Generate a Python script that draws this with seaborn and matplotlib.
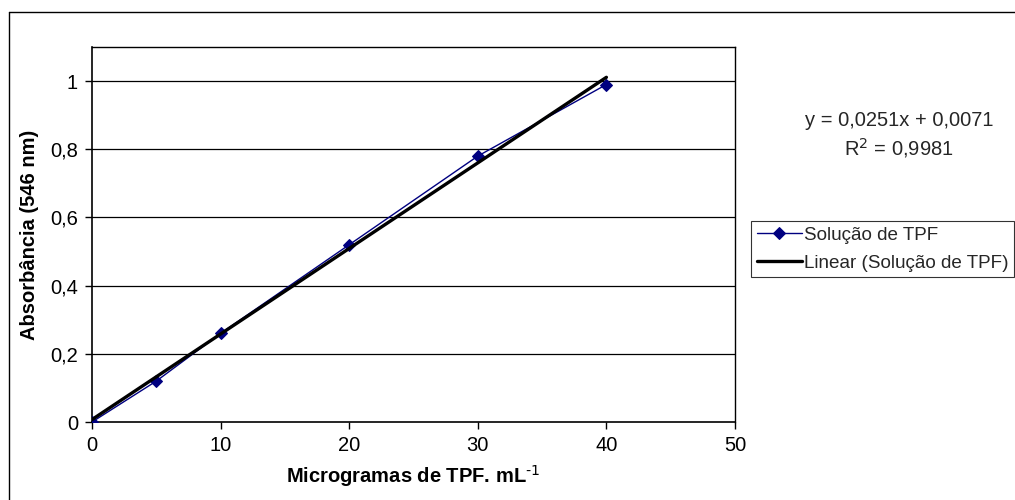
import numpy as np
import pandas as pd
import matplotlib
matplotlib.use("Agg")
import matplotlib.pyplot as plt
import seaborn as sns
from matplotlib.lines import Line2D

x_vals = [0, 5, 10, 20, 30, 40]
y_vals = [0.0, 0.12, 0.26, 0.52, 0.78, 0.99]
slope = 0.0251
intercept = 0.0071
series_label = "Solução de TPF"
trend_label = "Linear (Solução de TPF)"
eq_text = "y = 0,0251x + 0,0071"
r2_text = "R$^2$ = 0,9981"
xticks = [0, 10, 20, 30, 40, 50]
yticks = [0, 0.2, 0.4, 0.6, 0.8, 1.0]
ytick_labels = ["0", "0,2", "0,4", "0,6", "0,8", "1"]

sns.set_theme(style="white")
plt.rcParams['font.family'] = ['Liberation Sans', 'DejaVu Sans']

W, H = 1015, 500
fig = plt.figure(figsize=(W / 100, H / 100), dpi=100)
L, R, T, B = 92, 735, 47, 422
ax = fig.add_axes([L / W, 1 - B / H, (R - L) / W, (B - T) / H])

df = pd.DataFrame({"x": x_vals, "y": y_vals})
trend_x = np.array([x_vals[0], x_vals[-1]])
tdf = pd.DataFrame({"x": trend_x, "y": slope * trend_x + intercept})

for yt in yticks[1:]:
    ax.axhline(yt, color="black", lw=0.9, zorder=0)

sns.lineplot(data=df, x="x", y="y", ax=ax, color="#000080", lw=1.0,
             marker="D", markersize=6, markeredgecolor="#000080",
             markerfacecolor="#000080", label=series_label, zorder=3)
sns.lineplot(data=tdf, x="x", y="y", ax=ax, color="black", lw=2.4,
             label=trend_label, zorder=4)

ax.set_xlim(0, 50)
ax.set_ylim(0, 1.1)
ax.set_xticks(xticks)
ax.set_xticklabels([str(t) for t in xticks])
ax.set_yticks(yticks)
ax.set_yticklabels(ytick_labels)
for s in ["top", "right"]:
    ax.spines[s].set_color("black")
    ax.spines[s].set_linewidth(1.0)
for s in ["left", "bottom"]:
    ax.spines[s].set_color("black")
    ax.spines[s].set_linewidth(1.2)
ax.tick_params(axis="both", direction="out", length=5, width=1, color="black",
               labelsize=14.5, labelcolor="black", bottom=True, left=True, pad=5)
ax.set_xlabel("Microgramas de TPF. mL$^{\\text{-1}}$", fontsize=14.5, fontweight="bold",
              color="black", labelpad=6)
ax.set_ylabel("Absorbância (546 nm)", fontsize=14.5, fontweight="bold", color="black", labelpad=8)

ax.get_legend().remove()
h, l = ax.get_legend_handles_labels()
leg = fig.legend(h, l, loc="upper left", bbox_to_anchor=(751 / W, 1 - 221 / H),
                 frameon=True, fancybox=False, edgecolor="black", fontsize=13.6,
                 handlelength=2.4, handletextpad=0.1, borderpad=0.3,
                 labelspacing=0.55, borderaxespad=0)
leg.get_frame().set_linewidth(0.8)

fig.text(899 / W, 1 - 120 / H, eq_text, ha="center", va="center", fontsize=14.5)
fig.text(899 / W, 1 - 148 / H, r2_text, ha="center", va="center", fontsize=14.5)

# outer chart border (only left and top are visible in the crop)
fig.add_artist(Line2D([8.5 / W, 8.5 / W], [0, 1 - 12 / H], transform=fig.transFigure,
                      color="black", lw=1.0))
fig.add_artist(Line2D([8.5 / W, 1], [1 - 12 / H, 1 - 12 / H], transform=fig.transFigure,
                      color="black", lw=1.0))

fig.savefig("out.png", dpi=100)
